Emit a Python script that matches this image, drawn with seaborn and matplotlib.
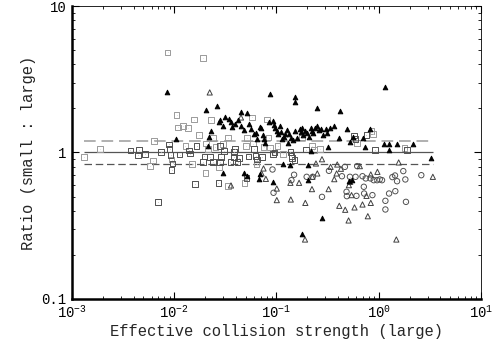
import numpy as np
import pandas as pd
import matplotlib
matplotlib.use("Agg")
import matplotlib.pyplot as plt
import matplotlib.ticker as mticker
import seaborn as sns

# Values, stored as log10 of
# effective collision strength (x) and log10 of ratio (y)
sq_light_lx = [-2.883, -2.724, -2.240, -2.211, -2.201, -2.065, -2.026, -1.977, -1.964, -1.916,
               -1.867, -1.890, -1.825, -1.756, -1.721, -1.695, -1.688, -1.669, -1.640, -1.623,
               -1.597, -1.562, -1.523, -1.477, -1.471, -1.312, -1.299, -1.289, -1.237, -1.227,
               -1.195, -1.127, -1.094, -1.078, -1.062, -0.990, -0.750, -0.653, -0.575, -0.211,
               -0.055, 0.253, -0.071, -1.805, -0.938, -0.636]
sq_light_ly = [-0.030, 0.025, -0.091, -0.055, 0.080, 0.683, -0.048, 0.257, 0.171, 0.180,
               0.168, 0.046, -0.077, 0.121, 0.646, -0.141, 0.061, 0.025, 0.221, 0.098,
               0.039, -0.102, 0.057, 0.102, -0.228, -0.209, 0.046, 0.098, 0.239, 0.061,
               -0.080, 0.036, 0.225, 0.102, 0.034, 0.043, 0.102, 0.043, 0.023, 0.064,
               0.127, 0.030, 0.146, 0.225, -0.011, 0.018]

sq_dark_lx = [-2.429, -2.347, -2.354, -2.289, -2.156, -2.130, -2.052, -2.045, -2.036, -2.016,
              -2.026, -1.948, -1.857, -1.847, -1.799, -1.782, -1.721, -1.705, -1.653, -1.623,
              -1.568, -1.549, -1.542, -1.510, -1.451, -1.419, -1.409, -1.380, -1.364, -1.292,
              -1.273, -1.218, -1.205, -1.192, -1.143, -1.036, -1.019, -0.864, -0.854, -0.847,
              -0.825, -0.714, -0.244, -0.227, -0.120, -0.039, 0.279, -1.552, -1.419]
sq_dark_ly = [0.014, 0.018, -0.018, -0.009, -0.337, 0.005, 0.055, 0.023, -0.018, -0.075,
              -0.118, -0.014, 0.014, -0.007, -0.214, 0.046, -0.066, -0.027, -0.030, -0.066,
              -0.207, -0.066, -0.030, 0.011, -0.066, -0.030, 0.025, -0.066, -0.039, -0.173,
              -0.027, 0.025, -0.025, -0.048, -0.032, -0.011, 0.000, 0.002, -0.023, -0.036,
              -0.050, 0.020, 0.116, 0.091, 0.121, 0.016, 0.016, 0.046, 0.005]

tri_fill_lx = [-2.068, -1.987, -1.688, -1.662, -1.669, -1.643, -1.584, -1.565, -1.549, -1.526,
               -1.506, -1.468, -1.445, -1.435, -1.403, -1.373, -1.344, -1.289, -1.344, -1.321,
               -1.273, -1.247, -1.224, -1.198, -1.188, -1.162, -1.149, -1.130, -1.127, -1.117,
               -1.075, -1.062, -1.032, -1.026, -1.010, -0.994, -0.984, -0.961, -0.955, -0.948,
               -0.925, -0.912, -0.893, -0.883, -0.873, -0.854, -0.834, -0.821, -0.821, -0.815,
               -0.802, -0.769, -0.760, -0.747, -0.737, -0.721, -0.705, -0.682, -0.666, -0.656,
               -0.640, -0.620, -0.604, -0.601, -0.588, -0.565, -0.549, -0.519, -0.503, -0.474,
               -0.435, -0.386, -0.380, -0.312, -0.282, -0.247, -0.156, -0.133, -0.081, 0.062,
               0.052, 0.101, 0.097, 0.179, 0.338, 0.513, -0.867, -0.692, -0.659, -0.494,
               -1.526, -1.321, -1.286, -1.169, -1.159, -1.036, -0.932, -0.692, -0.555, -0.753,
               -0.289, -0.263]
tri_fill_ly = [0.410, 0.093, 0.291, 0.107, 0.046, 0.150, 0.314, 0.207, 0.221, 0.184,
               0.239, 0.228, 0.209, 0.175, 0.193, 0.221, 0.278, 0.271, 0.180, 0.152,
               0.196, 0.157, 0.125, 0.130, 0.089, 0.177, 0.164, 0.121, 0.093, 0.068,
               0.205, 0.398, 0.216, 0.189, 0.168, 0.146, 0.125, 0.180, 0.137, 0.089,
               0.105, 0.125, 0.155, 0.064, 0.127, 0.100, 0.084, 0.380, 0.348, 0.146,
               0.096, 0.157, 0.139, 0.166, 0.118, 0.148, 0.130, 0.107, 0.168, 0.146,
               0.134, 0.166, 0.180, 0.307, 0.152, 0.159, 0.121, 0.157, 0.130, 0.164,
               0.182, 0.096, 0.284, 0.157, 0.075, 0.109, 0.098, 0.039, 0.159, 0.448,
               0.055, 0.057, 0.014, 0.061, 0.059, -0.036, -0.084, -0.084, 0.009, 0.039,
               -0.139, -0.143, -0.162, -0.184, -0.148, -0.203, -0.080, -0.189, -0.448, -0.553,
               -0.193, -0.189]

tri_open_lx = [-1.653, -1.445, -1.347, -1.146, -1.127, -1.104, -0.997, -0.997, -0.860, -0.779,
               -0.718, -0.721, -0.653, -0.649, -0.601, -0.614, -0.555, -0.490, -0.471, -0.435,
               -0.406, -0.386, -0.370, -0.328, -0.292, -0.295, -0.266, -0.237, -0.185, -0.159,
               -0.107, -0.078, -0.078, -0.013, 0.172, 0.195, 0.529, -0.864, -0.279, -0.412,
               -0.120]
tri_open_ly = [0.410, -0.225, 0.239, -0.143, -0.109, -0.180, -0.246, -0.325, -0.321, -0.207,
               -0.344, -0.594, -0.250, -0.166, -0.143, -0.075, -0.046, -0.250, -0.098, -0.182,
               -0.082, -0.364, -0.111, -0.391, -0.223, -0.464, -0.291, -0.375, -0.093, -0.355,
               -0.435, -0.150, -0.344, -0.132, -0.594, -0.068, -0.166, -0.207, -0.200, -0.143,
               -0.296]

circ_lx = [-1.039, -1.029, -0.828, -0.854, -0.705, -0.646, -0.555, -0.487, -0.360, -0.331,
           -0.315, -0.312, -0.227, -0.218, -0.211, -0.159, -0.146, -0.143, -0.127, -0.081,
           -0.062, -0.049, -0.016, 0.010, 0.032, 0.065, 0.065, 0.101, 0.133, 0.159,
           0.162, 0.179, 0.240, 0.260, 0.266, 0.416, -0.282]
circ_ly = [-0.116, -0.275, -0.152, -0.189, -0.166, -0.166, -0.303, -0.125, -0.162, -0.098,
           -0.268, -0.298, -0.166, -0.296, -0.093, -0.162, -0.234, -0.280, -0.177, -0.177,
           -0.291, -0.189, -0.189, -0.184, -0.189, -0.330, -0.389, -0.280, -0.168, -0.157,
           -0.264, -0.196, -0.127, -0.184, -0.337, -0.155, -0.166]

# reference lines
ratio_lines = [1.2, 1.0, 0.833]
line_span = [1.3e-3, 3.4]


def to_frame(lx, ly):
    return pd.DataFrame({'strength': 10 ** np.array(lx), 'ratio': 10 ** np.array(ly)})


sns.set_theme(style="ticks")
plt.rcParams['font.family'] = ['Liberation Mono', 'DejaVu Sans Mono']
plt.rcParams['mathtext.fontset'] = 'custom'
plt.rcParams['mathtext.rm'] = 'Liberation Mono'
plt.rcParams['mathtext.it'] = 'Liberation Mono'

fig = plt.figure(figsize=(4.94, 3.49), dpi=100)
ax = fig.add_axes([0.1457, 0.1433, 0.8280, 0.8395])
ax.set_xscale('log')
ax.set_yscale('log')

# horizontal guide lines
ax.hlines(ratio_lines[0], line_span[0], line_span[1], colors='#b0b0b0',
          linestyles=(0, (6, 3)), linewidth=1.4, zorder=1)
ax.hlines(ratio_lines[1], line_span[0], line_span[1], colors='#555555',
          linewidth=0.9, zorder=1)
ax.hlines(ratio_lines[2], line_span[0], line_span[1], colors='#555555',
          linestyles=(0, (6, 3)), linewidth=0.9, zorder=1)

series = [
    (to_frame(sq_light_lx, sq_light_ly), 's', 'none', '#9a9a9a', 17, True),
    (to_frame(sq_dark_lx, sq_dark_ly), 's', 'none', '#505050', 17, True),
    (to_frame(circ_lx, circ_ly), 'o', 'none', '#505050', 15, True),
    (to_frame(tri_open_lx, tri_open_ly), '^', 'none', '#404040', 14, False),
    (to_frame(tri_fill_lx, tri_fill_ly), '^', 'black', 'black', 11, False),
]
for df, marker, face, edge, size, dot in series:
    sns.scatterplot(data=df, x='strength', y='ratio', ax=ax, marker=marker,
                    s=size, facecolor=face, edgecolor=edge, linewidth=0.7,
                    legend=False, zorder=3)
    if dot:
        sns.scatterplot(data=df, x='strength', y='ratio', ax=ax, marker='.',
                        s=1.0, color=edge, linewidth=0, legend=False, zorder=3)

ax.set_xlim(1e-3, 1e1)
ax.set_ylim(0.1, 10)
ax.xaxis.set_major_formatter(mticker.LogFormatterMathtext())
ax.yaxis.set_major_formatter(mticker.FuncFormatter(lambda v, p: f"{v:g}"))
ax.yaxis.set_minor_formatter(mticker.NullFormatter())

ax.tick_params(which='both', direction='in', top=True, right=True,
               labelsize=10, colors='black')
ax.tick_params(which='major', length=5, width=0.8, pad=4)
ax.tick_params(which='minor', length=2.5, width=0.6)

for side in ['left', 'bottom']:
    ax.spines[side].set_linewidth(1.8)
for side in ['top', 'right']:
    ax.spines[side].set_linewidth(0.6)
for side in ax.spines:
    ax.spines[side].set_color('black')

ax.set_xlabel('Effective collision strength (large)', fontsize=11.2, labelpad=2)
ax.set_ylabel('Ratio (small : large)', fontsize=11.2, labelpad=4)

fig.savefig('out.png', dpi=100)
